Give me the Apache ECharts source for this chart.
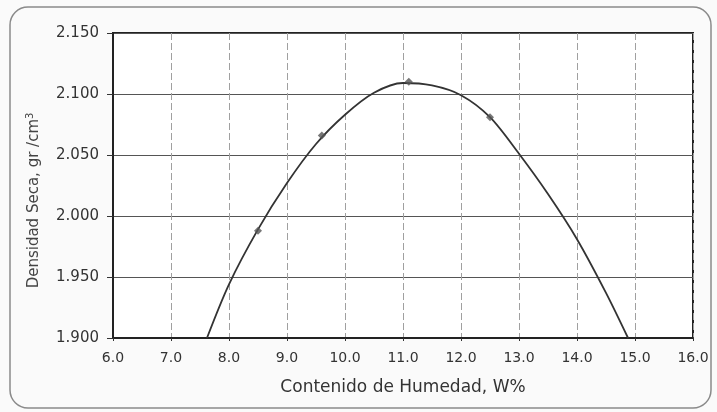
<!DOCTYPE html>
<html>
<head>
<meta charset="utf-8">
<script src="https://cdn.jsdelivr.net/npm/echarts@6/dist/echarts.min.js"></script>
<style>
  html, body { margin: 0; padding: 0; background: #fafafa; }
  #chart { width: 717px; height: 412px; }
</style>
</head>
<body>
<div id="chart"></div>
<script>
// fitted curve, every 0.5 %
var curveX = [7.62, 8.0, 8.5, 9.0, 9.5, 10.0, 10.5, 11.0, 11.5, 12.0, 12.5, 13.0, 13.5, 14.0, 14.5, 14.88];
var curveY = [1.900, 1.944, 1.989, 2.027, 2.059, 2.083, 2.101, 2.109, 2.107, 2.099, 2.081, 2.051, 2.018, 1.981, 1.937, 1.900];

// measured points
var pointX = [8.5, 9.6, 11.1, 12.5];
var pointY = [1.988, 2.066, 2.110, 2.081];

var chart = echarts.init(document.getElementById('chart'));

var labelFont = 'DejaVu Sans, Arial, sans-serif';

var option = {
    backgroundColor: '#fafafa',
    animation: false,
    graphic: [
        {
            type: 'rect',
            shape: { x: 10, y: 7, width: 701, height: 401, r: 18 },
            style: { fill: 'none', stroke: '#8a8a8a', lineWidth: 1.5 },
            z: -1
        }
    ],
    grid: {
        left: 113,
        right: 24,
        top: 33,
        bottom: 74,
        show: true,
        backgroundColor: '#ffffff',
        borderColor: '#222',
        borderWidth: 2
    },
    xAxis: {
        type: 'value',
        min: 6,
        max: 16,
        interval: 1,
        name: 'Contenido de Humedad, W%',
        nameLocation: 'middle',
        nameGap: 41,
        nameTextStyle: { fontFamily: labelFont, fontSize: 17, color: '#333' },
        axisLine: { show: true, lineStyle: { color: '#222', width: 2 } },
        axisTick: { show: true, length: 3, lineStyle: { color: '#333' } },
        axisLabel: {
            fontFamily: labelFont, fontSize: 14, color: '#333', margin: 13,
            formatter: function (v) { return v.toFixed(1); }
        },
        splitLine: { show: true, lineStyle: { color: '#a0a0a0', type: [7, 3], width: 1 } }
    },
    yAxis: {
        type: 'value',
        min: 1.9,
        max: 2.15,
        interval: 0.05,
        name: 'Densidad Seca, gr /cm{sup|3}',
        nameLocation: 'middle',
        nameGap: 70,
        nameTextStyle: {
            fontFamily: labelFont, fontSize: 15, color: '#444',
            padding: [0, 30, 0, 0],
            rich: { sup: { fontFamily: labelFont, fontSize: 10, color: '#444', verticalAlign: 'top', padding: [0, 0, 8, 0] } }
        },
        axisLine: { show: true, lineStyle: { color: '#222', width: 2 } },
        axisTick: { show: true, length: 6, lineStyle: { color: '#333' } },
        axisLabel: {
            fontFamily: labelFont, fontSize: 15, color: '#333', margin: 14,
            formatter: function (v) { return v.toFixed(3); }
        },
        splitLine: { show: true, lineStyle: { color: '#555', width: 1 } }
    },
    series: [
        {
            name: 'curva',
            type: 'line',
            smooth: 0.3,
            showSymbol: false,
            data: curveX.map(function (x, i) { return [x, curveY[i]]; }),
            lineStyle: { color: '#333', width: 1.8 },
            z: 3
        },
        {
            name: 'puntos',
            type: 'scatter',
            symbol: 'diamond',
            symbolSize: 8,
            data: pointX.map(function (x, i) { return [x, pointY[i]]; }),
            itemStyle: { color: '#555' },
            z: 4
        }
    ]
};

chart.setOption(option);
</script>
</body>
</html>
